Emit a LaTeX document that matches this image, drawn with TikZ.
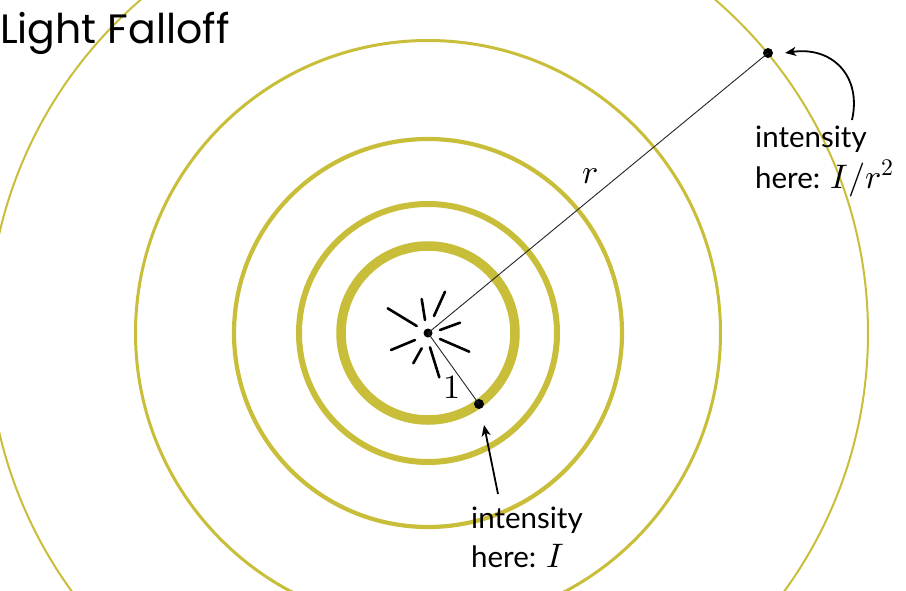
\documentclass[tikz,border=0pt]{standalone}
\usepackage{fontspec}
\usepackage{unicode-math}
\setmainfont{Lato}
\setmathfont{Latin Modern Math}
\newfontfamily\titlefont{Poppins}
\usetikzlibrary{arrows.meta}
\definecolor{ringc}{RGB}{201,190,58}
\begin{document}
\begin{tikzpicture}[x=1pt,y=-1pt,
  ring/.style={draw=ringc},
  dot/.style={circle,fill=black,inner sep=0pt,minimum size=10pt},
  cdot/.style={circle,fill=black,inner sep=0pt,minimum size=9pt},
  ray/.style={line width=2.6pt,line cap=round},
  spoke/.style={line width=0.9pt,draw=black!85},
  arr/.style={line width=1.8pt,-{Stealth[length=11pt,width=9pt,inset=3pt]}},
  lab/.style={inner sep=0pt,font=\fontsize{29.5}{33}\selectfont},
  mathlab/.style={inner sep=0pt,font=\fontsize{34}{38}\selectfont}]
\useasboundingbox (0,0) rectangle (906,590);
\fill[white] (0,0) rectangle (906,590);
\begin{scope}
\clip (0,0) rectangle (906,590);
\draw[ring,line width=2pt] (428,333) circle[radius=440pt];
\draw[ring,line width=3pt] (428,333) circle[radius=292.5pt];
\draw[ring,line width=4.2pt] (428,333) circle[radius=194pt];
\draw[ring,line width=6pt] (428,333) circle[radius=129pt];
\draw[ring,line width=9.5pt] (428,333) circle[radius=87pt];
\end{scope}
% rays
\draw[ray] (387.7,308.3) -- (416.7,326);
\draw[ray] (421.7,299) -- (425,320);
\draw[ray] (434,316) -- (445,291.7);
\draw[ray] (440,330) -- (460,322.7);
\draw[ray] (440,339) -- (469.3,351.7);
\draw[ray] (430,347.3) -- (439.3,377.3);
\draw[ray] (413.3,363.3) -- (421.7,348.3);
\draw[ray] (391,350) -- (415,340);
% points
\node[cdot] (c) at (428,333) {};
\node[dot] (p1) at (479,404) {};
\node[dot] (p2) at (768,53) {};
\draw[spoke] (c.center) -- (p2.center);
\draw[spoke] (c.center) -- (p1.center);
% labels
\node[mathlab,anchor=base] (r) at (590,183) {$r$};
\node[mathlab,anchor=base] (one) at (452,398) {$1$};
\node[lab,anchor=base west] (t1) at (755,147) {intensity};
\node[lab,anchor=base west] (t2) at (755,188) {here: {\fontsize{34}{38}\selectfont$I/r^2$}};
\node[lab,anchor=base west] (b1) at (471,528) {intensity};
\node[lab,anchor=base west] (b2) at (471,567) {here: {\fontsize{34}{38}\selectfont$I$}};
\node[inner sep=0pt,anchor=base west,font=\titlefont\fontsize{41}{46}\selectfont] (title) at (0,43) {Light Falloff};
% arrows
\coordinate (a1) at (852,120);
\draw[arr] (a1) .. controls (862,76) and (832,46) .. ([xshift=17pt]p2.center);
\coordinate (a2) at (498,494);
\draw[arr] (a2) -- ([xshift=5pt,yshift=-21pt]p1.center);
\end{tikzpicture}
\end{document}
